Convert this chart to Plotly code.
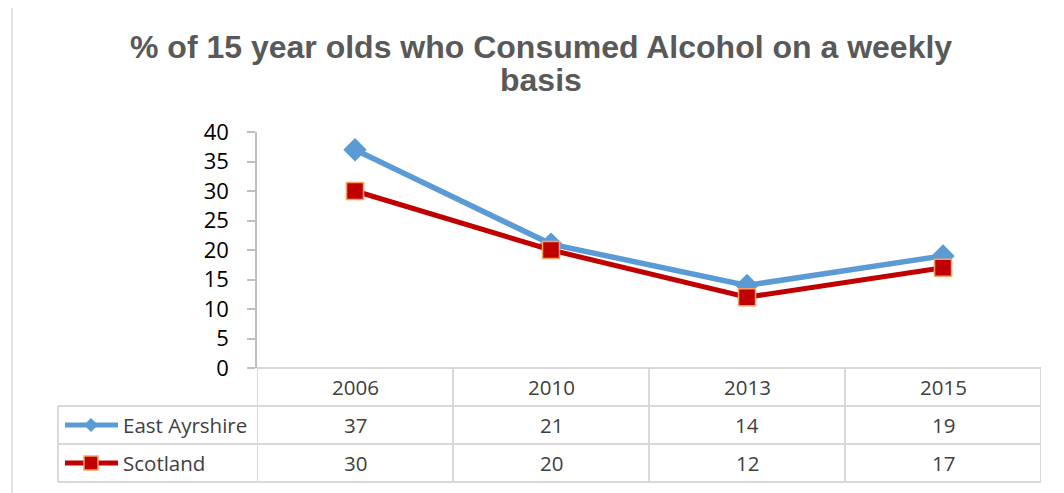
import plotly.graph_objects as go

jahre = ["2006", "2010", "2013", "2015"]
east_ayrshire = [37, 21, 14, 19]
scotland = [30, 20, 12, 17]
serien = ["East Ayrshire", "Scotland"]
titel_zeilen = ["% of 15 year olds who Consumed Alcohol on a weekly", "basis"]

OFF = 8  # body margin of the html page
W, H = 1064 - OFF, 493 - OFF
L, R, T, B = 257, 1041, 132, 368  # plot area in page pixels


def px(x):
    return (x - L) / (R - L)


def py(y):
    return (B - y) / (B - T)


fig = go.Figure()

fig.add_trace(go.Scatter(x=jahre, y=east_ayrshire, name=serien[0], mode="lines+markers",
                         line=dict(color="#5b9bd5", width=5.5),
                         marker=dict(symbol="diamond", size=18, color="#5b9bd5",
                                     line=dict(color="#5b9bd5", width=0))))
fig.add_trace(go.Scatter(x=jahre, y=scotland, name=serien[1], mode="lines+markers",
                         line=dict(color="#c00000", width=5),
                         marker=dict(symbol="square", size=17, color="#c00000",
                                     line=dict(color="#f4a460", width=1.5))))

grau = "#d9d9d9"
shapes = []
# Tabellenraster
for y in [406, 444, 482]:
    shapes.append(dict(type="line", xref="paper", yref="paper", x0=px(58), x1=1, y0=py(y), y1=py(y),
                       line=dict(color=grau, width=2)))
shapes.append(dict(type="line", xref="paper", yref="paper", x0=px(58), x1=px(58), y0=py(406), y1=py(482),
                   line=dict(color=grau, width=2)))
for i in range(len(jahre) + 1):
    shapes.append(dict(type="line", xref="x", yref="paper", x0=i - 0.5, x1=i - 0.5, y0=0, y1=py(482),
                       line=dict(color=grau, width=2)))
shapes.append(dict(type="line", xref="paper", yref="paper", x0=0, x1=1, y0=0, y1=0,
                   line=dict(color=grau, width=2)))
# Rahmen
shapes.append(dict(type="rect", xref="paper", yref="paper", x0=px(12), x1=px(1075), y0=py(5), y1=py(505),
                   line=dict(color=grau, width=1.5), layer="below"))

# Legendensymbole
farben = ["#5b9bd5", "#c00000"]
zeilen = [425, 463]
for f, z in zip(farben, zeilen):
    shapes.append(dict(type="line", xref="paper", yref="paper", x0=px(65), x1=px(118), y0=py(z), y1=py(z),
                       line=dict(color=f, width=5)))
c = 91
shapes.append(dict(type="path", xref="paper", yref="paper",
                   path="M {} {} L {} {} L {} {} L {} {} Z".format(px(c - 7), py(425), px(c), py(418),
                                                                  px(c + 7), py(425), px(c), py(432)),
                   fillcolor="#5b9bd5", line=dict(color="#5b9bd5", width=0)))
shapes.append(dict(type="rect", xref="paper", yref="paper", x0=px(c - 7), x1=px(c + 7),
                   y0=py(463 - 7), y1=py(463 + 7), fillcolor="#c00000", line=dict(color="#f4a460", width=1.5)))

anns = []
tfont = dict(family="Open Sans, Noto Sans, sans-serif", size=20.5, color="#404040")
for i, j in enumerate(jahre):
    anns.append(dict(x=i, xref="x", y=py(387), yref="paper", text=j, showarrow=False, font=tfont,
                     xanchor="center", yanchor="middle"))
for werte, z in zip([east_ayrshire, scotland], zeilen):
    for i, v in enumerate(werte):
        anns.append(dict(x=i, xref="x", y=py(z), yref="paper", text=str(v), showarrow=False, font=tfont,
                         xanchor="center", yanchor="middle"))
for s, z in zip(serien, zeilen):
    anns.append(dict(x=px(121), xref="paper", xanchor="left", y=py(z), yref="paper", yanchor="middle",
                     text=s, showarrow=False, font=tfont))
for zeile, y in zip(titel_zeilen, [47, 80]):
    anns.append(dict(x=px(541), xref="paper", xanchor="center", y=py(y), yref="paper", yanchor="middle",
                     text="<b>" + zeile + "</b>", showarrow=False,
                     font=dict(family="Liberation Sans, Arial, sans-serif", size=32, color="#595959")))

fig.update_layout(
    width=W, height=H,
    margin=dict(l=L - OFF, r=1064 - R, t=T - OFF, b=493 - B),
    paper_bgcolor="white", plot_bgcolor="white",
    showlegend=False,
    shapes=shapes, annotations=anns,
    xaxis=dict(range=[-0.5, 3.5], showticklabels=False, showgrid=False, zeroline=False, showline=False,
               ticks=""),
    yaxis=dict(range=[0, 40], dtick=5, showgrid=False, zeroline=False, showline=True, linecolor="#bfbfbf",
               linewidth=1.5, ticks="outside", ticklen=8, tickcolor="#bfbfbf", tickwidth=1.5,
               tickfont=dict(family="Open Sans, Noto Sans, sans-serif", size=22, color="#000000"),
               ticklabelstandoff=14),
)

fig.write_html("out.html")
